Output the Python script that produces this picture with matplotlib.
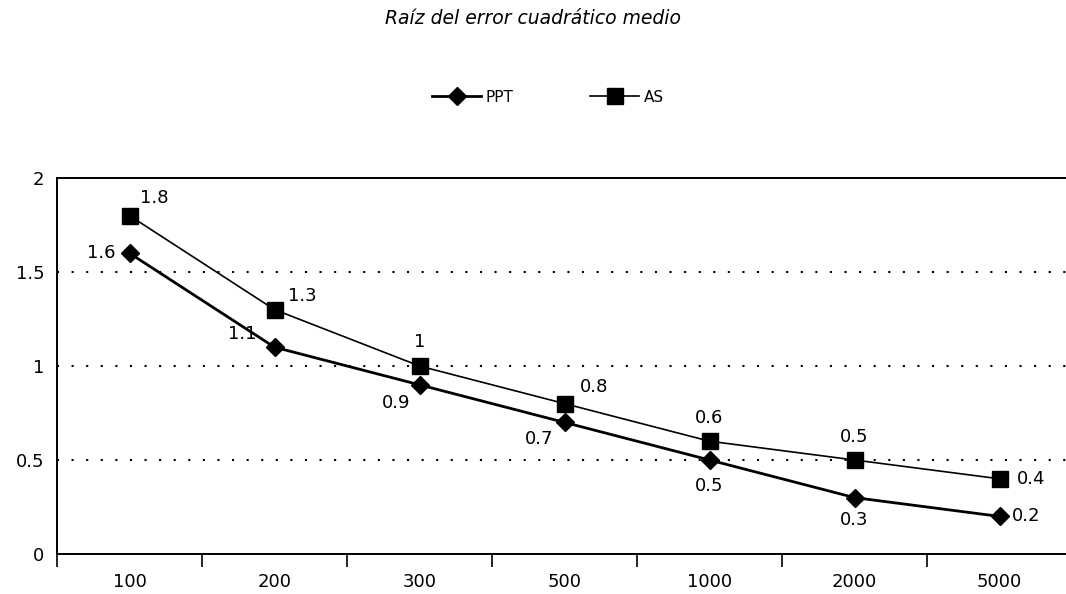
import numpy as np
import matplotlib.pyplot as plt
from matplotlib.ticker import FixedLocator

# Raiz del error cuadratico medio por tamano de muestra
tamanos = ['100', '200', '300', '500', '1000', '2000', '5000']
ppt = [1.6, 1.1, 0.9, 0.7, 0.5, 0.3, 0.2]
as_vals = [1.8, 1.3, 1.0, 0.8, 0.6, 0.5, 0.4]

# label offsets in pixels (dx, dy, ha)
ppt_off = [(-14, 0, 'right'), (-18, 13, 'right'), (-9, -18, 'right'), (-11, -17, 'right'),
           (0, -26, 'center'), (0, -22, 'center'), (12, 0, 'left')]
as_off = [(11, 18, 'left'), (14, 14, 'left'), (0, 24, 'center'), (15, 17, 'left'),
          (0, 23, 'center'), (0, 23, 'center'), (17, 0, 'left')]

plt.rcParams['font.family'] = 'DejaVu Sans'

fig = plt.figure(figsize=(10.66, 5.94), dpi=100)
ax = fig.add_axes([57/1066, 40/594, 1015/1066, 376/594])
x = np.arange(len(tamanos))

ax.plot(x, ppt, color='black', lw=2.0, marker='D', ms=9, label='PPT')
ax.plot(x, as_vals, color='black', lw=1.2, marker='s', ms=11, label='AS')

for xi, v, (dx, dy, ha) in zip(x, ppt, ppt_off):
    ax.annotate(f'{v:g}', (xi, v), xytext=(dx, dy), textcoords='offset pixels',
                ha=ha, va='center', fontsize=13)
for xi, v, (dx, dy, ha) in zip(x, as_vals, as_off):
    ax.annotate(f'{v:g}', (xi, v), xytext=(dx, dy), textcoords='offset pixels',
                ha=ha, va='center', fontsize=13)

ax.set_xlim(-0.5, len(tamanos) - 0.5)
ax.set_ylim(0, 2)
ax.set_yticks([0, 0.5, 1, 1.5, 2])
ax.set_yticklabels(['0', '0.5', '1', '1.5', '2'])
ax.set_xticks(x)
ax.set_xticklabels(tamanos)
ax.xaxis.set_minor_locator(FixedLocator(np.arange(-0.5, len(tamanos), 1.0)))
ax.tick_params(axis='x', which='major', length=0, pad=14, labelsize=13)
ax.tick_params(axis='x', which='minor', length=9, width=1.2, direction='out')
ax.tick_params(axis='y', length=0, pad=9, labelsize=13)

for yv in [0.5, 1.0, 1.5]:
    ax.axhline(yv, color='black', lw=1.5, ls=(0, (1, 6)), zorder=0)

ax.spines['right'].set_visible(False)
for s in ['top', 'left', 'bottom']:
    ax.spines[s].set_linewidth(1.4)

fig.text(0.5, 1 - 18/594, 'Raíz del error cuadrático medio', ha='center', va='center',
         style='italic', fontsize=13.5)

fig.legend(loc='center', bbox_to_anchor=(548/1066, 1 - 97/594), ncol=2, frameon=False,
           fontsize=11, handlelength=3.2, columnspacing=5.0, handletextpad=0.3,
           markerscale=1.0)

fig.savefig('out.png', dpi=100)
